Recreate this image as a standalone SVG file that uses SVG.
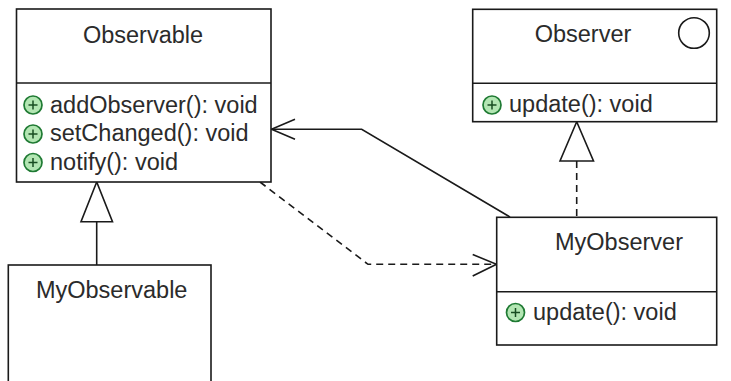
<svg xmlns="http://www.w3.org/2000/svg" width="731" height="381" viewBox="0 0 731 381">
  <defs>
    <style>
      .box{fill:#ffffff;stroke:#1a1a1a;stroke-width:1.6}
      .sep{stroke:#1a1a1a;stroke-width:1.4}
      .t{font-family:"Liberation Sans",Arial,sans-serif;font-size:23.5px;fill:#2b2b2b}
      .c{text-anchor:middle}
      .pub{fill:#b3e6b3;stroke:#1f7a33;stroke-width:1.7}
      .plus{stroke:#184d22;stroke-width:1.5}
      .ln{fill:none;stroke:#1a1a1a;stroke-width:1.6}
      .dash{stroke-dasharray:7 5}
      .tri{fill:#ffffff;stroke:#1a1a1a;stroke-width:1.6}
    </style>
    <g id="pubIcon">
      <circle class="pub" cx="0" cy="0" r="9"/>
      <line class="plus" x1="-4.5" y1="0" x2="4.5" y2="0"/>
      <line class="plus" x1="0" y1="-4.5" x2="0" y2="4.5"/>
    </g>
  </defs>
  <rect width="731" height="381" fill="#ffffff"/>

  <g id="connectors">
    <!-- MyObservable generalizes Observable -->
    <line class="ln" x1="96.7" y1="221.7" x2="96.7" y2="265"/>
    <polygon class="tri" points="96.7,182 81,221.7 112.5,221.7"/>
    <!-- MyObserver realizes Observer -->
    <line class="ln dash" x1="576.7" y1="161" x2="576.7" y2="217"/>
    <polygon class="tri" points="576.7,121.7 560,161 593.5,161"/>
    <!-- MyObserver association to Observable -->
    <polyline class="ln" points="510,217 361.7,129.3 271.5,129.3"/>
    <polyline class="ln" points="295,119.3 271.5,129.3 295,139.3"/>
    <!-- Observable dependency to MyObserver -->
    <polyline class="ln dash" points="260,182 368,264.3 496,264.3"/>
    <polyline class="ln" points="472.7,254.5 496.5,264.3 472.7,276"/>
  </g>

  <g id="Observable">
    <rect class="box" x="16.5" y="9" width="254.5" height="173"/>
    <line class="sep" x1="16.5" y1="83" x2="271" y2="83"/>
    <text class="t c" x="143" y="43">Observable</text>
    <use href="#pubIcon" x="33" y="105"/>
    <text class="t" x="50" y="112.5">addObserver(): void</text>
    <use href="#pubIcon" x="33" y="134"/>
    <text class="t" x="50" y="141">setChanged(): void</text>
    <use href="#pubIcon" x="33" y="162.5"/>
    <text class="t" x="50" y="169.5">notify(): void</text>
  </g>

  <g id="Observer">
    <rect class="box" x="472.7" y="9.3" width="244" height="112.4"/>
    <line class="sep" x1="472.7" y1="83.3" x2="716.7" y2="83.3"/>
    <text class="t c" x="583" y="42">Observer</text>
    <circle cx="694" cy="33" r="15.3" fill="#ffffff" stroke="#1a1a1a" stroke-width="1.6"/>
    <use href="#pubIcon" x="492" y="105"/>
    <text class="t" x="509" y="112">update(): void</text>
  </g>

  <g id="MyObserver">
    <rect class="box" x="496.7" y="217.3" width="220" height="127.7"/>
    <line class="sep" x1="496.7" y1="291.7" x2="716.7" y2="291.7"/>
    <text class="t c" x="619" y="250">MyObserver</text>
    <use href="#pubIcon" x="515.5" y="312.5"/>
    <text class="t" x="533" y="320">update(): void</text>
  </g>

  <g id="MyObservable">
    <rect class="box" x="8.3" y="265" width="202.7" height="140"/>
    <text class="t c" x="111.7" y="298.3">MyObservable</text>
  </g>
</svg>
